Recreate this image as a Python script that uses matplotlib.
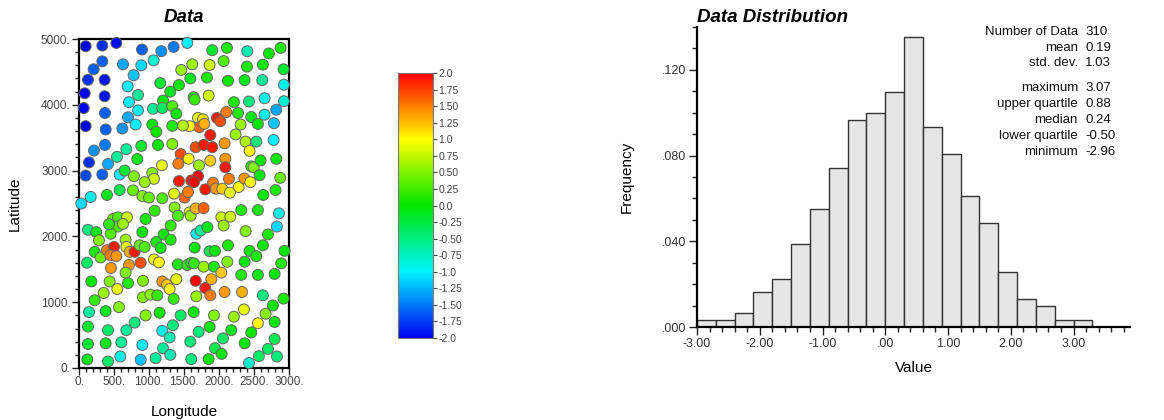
import numpy as np
import matplotlib
matplotlib.use("Agg")
import matplotlib.pyplot as plt
from matplotlib.colors import LinearSegmentedColormap, Normalize
from matplotlib.cm import ScalarMappable
from matplotlib.ticker import MultipleLocator, FixedLocator

plt.rcParams['font.family'] = ['Liberation Sans', 'DejaVu Sans']

# 采样点: 经度, 纬度, 数值
lon = [95, 333, 533, 900, 1176, 1352, 1547, 1904, 2113, 2404, 2713, 2880,
       209, 333, 628, 890, 1066, 1461, 1618, 1866, 2066, 2399, 2627, 2922,
       128, 366, 781, 695, 1161, 1428, 1590, 1828, 2128, 2366, 2618, 2927,
       81, 366, 843, 1304, 1200, 1638, 1652, 1852, 2213, 2428, 2651, 2927,
       67, 714, 843, 1057, 1190, 1333, 1390, 371, 700, 1700, 1771, 1971,
       2018, 2104, 2271, 2461, 2556, 2651, 2818, 2785, 1719, 1580, 1485, 1790,
       95, 381, 619, 809, 1047, 1104, 1333, 371, 214, 676, 890, 1128,
       1333, 143, 414, 543, 833, 1185, 1452, 1419, 1566, 1714, 1666, 1780,
       1904, 1875, 2090, 2090, 1875, 2080, 2380, 2437, 2533, 2780, 2237, 2309,
       2461, 2495, 2594, 2818, 95, 333, 581, 652, 785, 1047, 1071, 938,
       1428, 1604, 1700, 1643, 1804, 1914, 1952, 2047, 2142, 2280, 2361, 2447,
       2580, 2875, 167, 400, 581, 771, 905, 1000, 1190, 1357, 1509, 1557,
       2156, 2632, 2808, 33,
       486, 557, 686, 476, 557, 628, 452, 952, 1081, 1309, 1366, 1414,
       1580, 1595, 1666, 1780, 1676, 1738, 1833, 2033, 2161, 2066, 2318, 2380,
       2556, 2856, 2827, 128, 247, 286, 224, 114, 309, 400, 500, 447,
       533, 666, 676, 724, 795, 881, 714, 666, 905, 866, 938, 1104,
       1166, 1209, 1309, 1071, 1142, 1414, 1547, 1604, 1643, 1780, 1652, 1866,
       1942, 1928, 2033, 2118, 2128, 2366, 2318, 2437, 2532, 2627, 2699, 2937,
       2889, 2794, 2556, 176, 438, 700, 914, 547, 352, 224, 1190, 1257,
       1295, 1390, 1666, 1804, 1876, 1890, 1676, 2080, 2328, 914, 1019, 1119,
       1352, 2627, 2922, 143, 381, 571, 952, 1152, 1342, 1452, 1638, 1928,
       2213, 2356, 2666, 2770, 795, 128, 414, 676, 1190, 1295, 1709, 1866,
       2175, 2461, 2556, 2794, 2056, 1942, 2037, 2366, 2794, 2699, 2570, 2828,
       2428, 128, 381, 605, 905, 1200, 1304, 1590, 119, 414, 590, 881,
       1095, 1604, 1852, 457, 428]
lat = [4890, 4900, 4940, 4840, 4815, 4880, 4940, 4830, 4865, 4815, 4780, 4865,
       4540, 4660, 4615, 4600, 4675, 4530, 4615, 4605, 4665, 4580, 4610, 4540,
       4380, 4380, 4450, 4280, 4330, 4300, 4400, 4415, 4365, 4375, 4375, 4305,
       4175, 4130, 4150, 4200, 4065, 4115, 4080, 4140, 4040, 4050, 4100, 4055,
       3950, 4040, 3915, 3940, 3950, 3980, 3865, 3875, 3810, 3800, 3780, 3800,
       3750, 3890, 3875, 3815, 3710, 3850, 3925, 3720, 3660, 3675, 3685, 3710,
       3675, 3625, 3640, 3700, 3700, 3590, 3680, 3390, 3305, 3325, 3375, 3390,
       3405, 3125, 3100, 3210, 3175, 3080, 3250, 3105, 3180, 3080, 3355, 3390,
       3355, 3150, 3180, 3050, 3540, 3415, 3440, 3300, 3440, 3465, 3550, 3700,
       3065, 3050, 3155, 3180, 2925, 2940, 2940, 3000, 2915, 2965, 2875, 2825,
       2840, 2850, 2915, 2825, 2715, 2815, 2725, 2725, 2875, 2750, 2880, 2825,
       2930, 2890, 2600, 2630, 2705, 2700, 2615, 2590, 2580, 2650, 2590, 2675,
       2665, 2630, 2705, 2500,
       2265, 2290, 2290, 2150, 2150, 2190, 2040, 2265, 2390, 2165, 2440, 2315,
       2365, 2315, 2425, 2430, 2040, 2090, 2140, 2290, 2300, 2165, 2400, 2080,
       2400, 2350, 2150, 2100, 2065, 1940, 1765, 1600, 1680, 1790, 1840, 1715,
       1700, 1950, 1840, 1765, 1765, 1600, 1565, 1450, 2065, 1865, 1840, 1915,
       1825, 2030, 1950, 1650, 1605, 1575, 1565, 1600, 1590, 1540, 1830, 1775,
       1780, 1540, 1450, 1615, 1865, 1615, 1415, 1780, 1700, 1865, 2030, 1780,
       1590, 1430, 1415, 1315, 1315, 1290, 1325, 1200, 1140, 1030, 1315, 1265,
       1200, 1350, 1325, 1215, 1105, 1350, 1090, 1155, 1155, 1075, 1115, 1105,
       1050, 1105, 1055, 850, 865, 925, 800, 840, 650, 800, 850, 800,
       780, 890, 825, 950, 690, 630, 575, 575, 565, 465, 550, 625,
       575, 540, 680, 700, 450, 300, 215, 375, 440, 290, 180, 175,
       75, 365, 375, 390, 350, 300, 200, 400, 130, 100, 175, 125,
       150, 135, 135, 1520, 2185]
val = [-2.0, -1.8, -1.95, -1.6, -1.4, -1.5, -1.0, -0.2, 0.1, -0.7, 0.0, 0.1,
       -1.6, -1.6, -1.3, -1.1, -0.8, 0.6, 0.6, 0.8, 0.3, 0.1, 0.0, -0.2,
       -1.8, -1.9, -1.2, -1.0, -0.2, 0.0, -0.1, 0.1, 0.0, -0.1, -0.6, -0.9,
       -2.0, -1.9, -0.6, -0.1, 0.0, 0.1, 0.2, 0.8, 0.1, -0.5, -0.9, -0.8,
       -2.0, -1.0, -0.95, -0.6, -0.4, 0.3, 0.0, -1.6, -1.3, 0.9, 1.1, 1.9,
       1.7, 1.5, 0.1, -0.1, 0.0, -0.9, -1.3, -1.2, 1.6, 1.0, 0.7, 1.3,
       -2.0, -1.6, -1.4, -1.0, 0.0, 0.0, 0.1, -1.5, -1.4, -0.6, -0.2, 0.0,
       0.5, -1.8, -1.3, -0.6, -0.1, 0.9, 1.7, 1.5, 1.0, 0.6, 1.7, 1.9,
       1.9, 1.2, 1.4, 1.9, 1.9, 1.4, 0.7, 1.0, -0.5, -1.0, 0.6, 0.6,
       0.2, 0.5, 0.0, 0.0, -1.7, -1.6, -1.0, -0.2, 0.5, 0.5, 0.8, 0.6,
       1.9, 1.9, 2.0, 2.0, 1.9, 1.5, 1.4, 1.2, 1.5, 1.0, 1.4, 1.0,
       0.0, 0.4, -0.9, -0.1, -0.3, 0.4, 0.5, 0.4, 0.3, 0.9, 1.6, 1.5,
       0.9, 0.0, 0.1, -1.1,
       0.4, 0.3, 0.8, 0.5, 0.3, 0.6, 0.3, 0.1, 0.2, 0.2, 0.5, 0.3,
       0.9, 0.6, 1.3, 1.6, -0.9, -0.6, -0.1, 0.8, 0.8, 0.6, 0.1, 0.5,
       0.1, -0.9, -1.1, -0.5, -0.1, 0.5, 0.1, -0.4, 0.4, 1.5, 1.9, 1.5,
       1.4, 0.6, 0.9, 1.3, 1.9, 1.7, 1.4, 0.5, 0.0, 0.4, 0.3, 0.1,
       0.0, 0.0, 0.1, 0.9, 1.0, 0.1, 0.2, 0.1, 0.2, 0.6, 0.0, -0.3,
       0.0, 0.1, 1.2, 0.5, 0.1, 0.0, 0.1, 0.0, 0.1, 0.0, 0.1, 0.0,
       0.1, 0.0, -0.1, 0.0, 0.5, 0.1, 0.5, 0.9, 0.6, 0.2, 1.4, 1.2,
       1.0, 0.9, 2.0, 1.9, 1.5, 1.3, 0.6, 1.4, 1.3, 0.5, 0.5, 0.2,
       0.2, -0.5, 0.1, -0.6, -0.1, 0.5, 0.5, 0.0, -0.5, -0.4, 0.0, 0.5,
       0.6, 0.9, 0.5, 0.0, -0.5, -0.2, -0.4, -0.6, -0.9, -0.7, -0.5, 0.0,
       -0.1, 0.0, 1.0, 0.0, -0.4, -0.3, 0.0, 0.0, -0.3, -0.4, -0.4, -0.5,
       -0.8, -0.2, -0.1, -0.6, -1.0, -0.6, -0.7, -0.5, -0.1, -0.4, -0.9, -1.2,
       -0.6, -0.5, 0.0, 1.4, 0.2]

# 直方图: 组距0.3, 各组个数
bin_edges = np.round(np.arange(-3.0, 3.31, 0.3), 2)
bin_counts = [1, 1, 2, 5, 7, 12, 17, 23, 30, 31, 34, 42, 29, 25, 19, 15, 8, 4, 3, 1, 1]
n_data = 310

stat_names = ['Number of Data', 'mean', 'std. dev.', 'maximum', 'upper quartile',
              'median', 'lower quartile', 'minimum']
stat_values = ['310', '0.19', '1.03', '3.07', '0.88', '0.24', '-0.50', '-2.96']

cbar_ticks = [-2.0, -1.75, -1.5, -1.25, -1.0, -0.75, -0.5, -0.25, 0.0,
              0.25, 0.5, 0.75, 1.0, 1.25, 1.5, 1.75, 2.0]
cbar_labels = ['-2.0', '-1.75', '-1.50', '-1.25', '-1.0', '-0.75', '-0.50', '-0.25', '0.0',
               '0.25', '0.50', '0.75', '1.0', '1.25', '1.50', '1.75', '2.0']

W, H = 1164, 420
fig = plt.figure(figsize=(W / 100, H / 100), dpi=100)


def box(x0, y0, x1, y1):
    # 像素框 -> figure 坐标
    return [x0 / W, 1 - y1 / H, (x1 - x0) / W, (y1 - y0) / H]


cmap = LinearSegmentedColormap.from_list(
    'bcgyr', ['#0000f0', '#00f5ff', '#00e600', '#ffff00', '#ff0000'])
norm = Normalize(-2.0, 2.0)
tick_col = '#444444'

# ---- 左图: 数据位置 ----
ax = fig.add_axes(box(79, 39, 289, 368))
ax.scatter(lon, lat, c=val, cmap=cmap, norm=norm, s=62, edgecolors='#666666',
           linewidths=0.7, clip_on=False, zorder=3)
ax.set_xlim(0, 3000)
ax.set_ylim(0, 5000)
ax.xaxis.set_major_locator(FixedLocator([0, 500, 1000, 1500, 2000, 2500, 3000]))
ax.set_xticklabels(['0.', '500.', '1000.', '1500.', '2000.', '2500.', '3000.'])
ax.yaxis.set_major_locator(FixedLocator([0, 1000, 2000, 3000, 4000, 5000]))
ax.set_yticklabels(['0.', '1000.', '2000.', '3000.', '4000.', '5000.'])
ax.xaxis.set_minor_locator(MultipleLocator(100))
ax.yaxis.set_minor_locator(MultipleLocator(200))
ax.tick_params(which='both', direction='out', labelsize=8.5, colors='#222222',
               labelcolor=tick_col, width=1)
ax.tick_params(which='major', length=5, pad=1)
ax.tick_params(which='minor', length=3)
for sp in ax.spines.values():
    sp.set_linewidth(1.6)
fig.text(184 / W, 1 - 18 / H, 'Data', fontsize=13.5, fontweight='bold',
         style='italic', ha='center', va='center')
ax.set_xlabel('Longitude', fontsize=11, labelpad=12)
ax.set_ylabel('Latitude', fontsize=11, labelpad=14)

# ---- 色标 ----
cax = fig.add_axes(box(398, 73, 433, 338))
cb = fig.colorbar(ScalarMappable(norm=norm, cmap=cmap), cax=cax)
cb.set_ticks(cbar_ticks)
cb.set_ticklabels(cbar_labels)
cb.outline.set_edgecolor('#777777')
cb.outline.set_linewidth(0.8)
cax.tick_params(labelsize=7.5, length=3, width=0.8, pad=1, colors='#444444',
                labelcolor=tick_col)

# ---- 右图: 直方图 ----
hx = fig.add_axes(box(697, 27, 1130, 327))
freq = np.array(bin_counts) / n_data
hx.bar(bin_edges[:-1], freq, width=0.3, align='edge', color='#e6e6e6',
       edgecolor='#333333', linewidth=1.0, zorder=2)
hx.set_xlim(-3.0, 3.9)
hx.set_ylim(0, 0.14)
hx.xaxis.set_minor_locator(MultipleLocator(0.2))
hx.yaxis.set_minor_locator(MultipleLocator(0.01))
hx.set_xticks([-3, -2, -1, 0, 1, 2, 3])
hx.set_xticklabels(['-3.00', '-2.00', '-1.00', '.00', '1.00', '2.00', '3.00'])
hx.set_yticks([0, 0.04, 0.08, 0.12])
hx.set_yticklabels(['.000', '.040', '.080', '.120'])
hx.spines['top'].set_visible(False)
hx.spines['right'].set_visible(False)
hx.spines['left'].set_linewidth(1.6)
hx.spines['bottom'].set_linewidth(1.6)
hx.tick_params(which='both', direction='out', labelsize=9, colors='#222222',
               labelcolor='#333333', width=1)
hx.tick_params(which='major', length=6, pad=2)
hx.tick_params(which='minor', length=3.5)
hx.set_xlabel('Value', fontsize=11, labelpad=8)
hx.set_ylabel('Frequency', fontsize=11, labelpad=20)
fig.text(697 / W, 1 - 17 / H, 'Data Distribution', fontsize=13.5,
         fontweight='bold', style='italic', ha='left', va='center')

# 统计量
row_y = [32, 48, 63, 88, 104, 120, 136, 152]
for name, v, y in zip(stat_names, stat_values, row_y):
    fig.text(1078 / W, 1 - y / H, name, fontsize=9.5, ha='right', va='center', color='#111111')
    fig.text(1085 / W, 1 - y / H, v, fontsize=9.5, ha='left', va='center', color='#111111')

fig.savefig('out.png', dpi=100, facecolor='white')
